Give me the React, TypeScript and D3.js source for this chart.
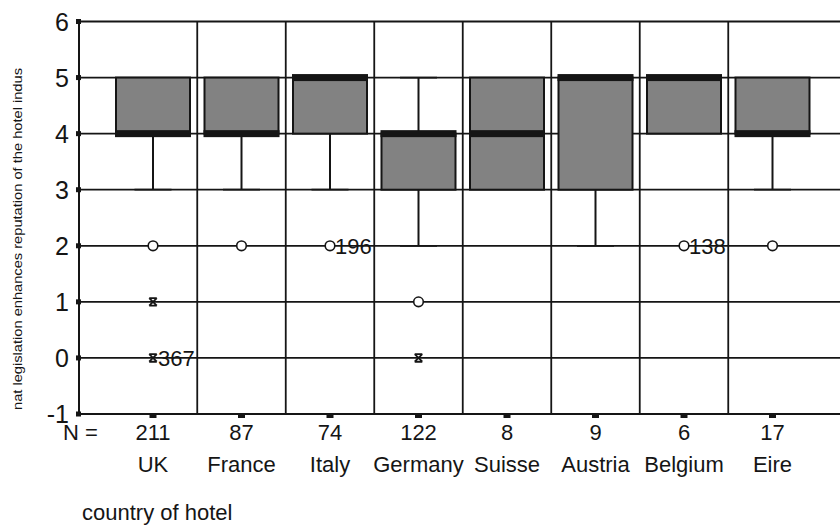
import React from "react";
import * as d3 from "d3";

// Countries of the surveyed hotels and their sample sizes
const categories = ["UK", "France", "Italy", "Germany", "Suisse", "Austria", "Belgium", "Eire"];
const sampleSizes = [211, 87, 74, 122, 8, 9, 6, 17];

// Box statistics per country (Likert-type agreement score)
const q1Values = [4, 4, 4, 3, 3, 3, 4, 4];
const medianValues = [4, 4, 5, 4, 4, 5, 5, 4];
const q3Values = [5, 5, 5, 4, 5, 5, 5, 5];
const whiskerLow = [3, 3, 3, 2, 3, 2, 4, 3];
const whiskerHigh = [5, 5, 5, 5, 5, 5, 5, 5];

// Outliers (circles) and extremes (stars), with case labels where shown
const outlierCountry = ["UK", "France", "Italy", "Germany", "Belgium", "Eire"];
const outlierValue = [2, 2, 2, 1, 2, 2];
const outlierLabel = ["", "", "196", "", "138", ""];

const extremeCountry = ["UK", "UK", "Germany"];
const extremeValue = [1, 0, 0];
const extremeLabel = ["", "367", ""];

const yTicks = [-1, 0, 1, 2, 3, 4, 5, 6];

const W = 840;
const H = 527;
const FONT = "'Liberation Sans', Arial, Helvetica, sans-serif";

export default function App() {
  const axisX = 79;
  const right = W;
  const y = d3.scaleLinear().domain([-1, 6]).range([414, 21.5]);
  const x = d3.scaleBand<string>().domain(categories).range([108.75, 816.75]).paddingInner(0).paddingOuter(0);
  const bw = x.bandwidth();
  const cx = (c: string) => (x(c) as number) + bw / 2;
  const boxW = 74;
  const ink = "#151515";

  const starPath = (s: number) =>
    `M${-s},${-s}L${s},${-s}M${-s},${s}L${s},${s}M${-s},${-s}L${s},${s}M${s},${-s}L${-s},${s}`;

  return (
    <svg
      width={W}
      height={H}
      viewBox={`0 0 ${W} ${H}`}
      style={{ position: "absolute", left: 0, top: 0, background: "#fff" }}
      fontFamily={FONT}
    >
      {/* horizontal grid lines */}
      {yTicks.map((t) => (
        <line key={`h${t}`} x1={axisX} x2={right} y1={y(t)} y2={y(t)} stroke={ink} strokeWidth={1.8} />
      ))}
      {/* vertical separators between countries */}
      {categories.slice(1).map((c) => (
        <line key={`v${c}`} x1={x(c)} x2={x(c)} y1={y(6)} y2={y(-1)} stroke={ink} strokeWidth={1.8} />
      ))}
      {/* y axis */}
      <line x1={axisX} x2={axisX} y1={y(6)} y2={y(-1)} stroke={ink} strokeWidth={2} />
      {yTicks.map((t) => (
        <g key={`yt${t}`}>
          <rect x={axisX - 3} y={y(t) - 2.5} width={5} height={5} fill={ink} />
          <text x={69} y={y(t)} dy="0.36em" textAnchor="end" fontSize={25} fill={ink}>
            {t}
          </text>
        </g>
      ))}
      {/* x tick marks */}
      {categories.map((c) => (
        <rect key={`xt${c}`} x={cx(c) - 3.5} y={y(-1)} width={7} height={4} fill={ink} />
      ))}

      {/* whiskers */}
      {categories.map((c, i) => (
        <g key={`w${c}`} stroke={ink} strokeWidth={2}>
          {whiskerLow[i] < q1Values[i] && (
            <>
              <line x1={cx(c)} x2={cx(c)} y1={y(q1Values[i])} y2={y(whiskerLow[i])} />
              <line x1={cx(c) - boxW / 4} x2={cx(c) + boxW / 4} y1={y(whiskerLow[i])} y2={y(whiskerLow[i])} strokeWidth={1.8} />
            </>
          )}
          {whiskerHigh[i] > q3Values[i] && (
            <>
              <line x1={cx(c)} x2={cx(c)} y1={y(q3Values[i])} y2={y(whiskerHigh[i])} />
              <line x1={cx(c) - boxW / 4} x2={cx(c) + boxW / 4} y1={y(whiskerHigh[i])} y2={y(whiskerHigh[i])} strokeWidth={1.8} />
            </>
          )}
        </g>
      ))}

      {/* boxes and medians */}
      {categories.map((c, i) => (
        <g key={`b${c}`}>
          <rect
            x={cx(c) - boxW / 2}
            y={y(q3Values[i])}
            width={boxW}
            height={y(q1Values[i]) - y(q3Values[i])}
            fill="#828282"
            stroke={ink}
            strokeWidth={2}
          />
          <rect x={cx(c) - boxW / 2 - 1} y={y(medianValues[i]) - 3.5} width={boxW + 2} height={7} fill={ink} />
        </g>
      ))}

      {/* outliers */}
      {outlierCountry.map((c, i) => (
        <g key={`o${i}`}>
          <circle cx={cx(c)} cy={y(outlierValue[i])} r={4.8} fill="#fff" stroke={ink} strokeWidth={1.6} />
          {outlierLabel[i] && (
            <text x={cx(c) + 5} y={y(outlierValue[i])} dy="0.36em" fontSize={22} fill={ink}>
              {outlierLabel[i]}
            </text>
          )}
        </g>
      ))}
      {/* extremes */}
      {extremeCountry.map((c, i) => (
        <g key={`e${i}`}>
          <path
            d={starPath(3.8)}
            transform={`translate(${cx(c)},${y(extremeValue[i])})`}
            fill="none"
            stroke={ink}
            strokeWidth={1.8}
          />
          {extremeLabel[i] && (
            <text x={cx(c) + 5} y={y(extremeValue[i])} dy="0.36em" fontSize={22} fill={ink}>
              {extremeLabel[i]}
            </text>
          )}
        </g>
      ))}

      {/* N row and category names */}
      <text x={63} y={440} fontSize={22} fill={ink}>
        N =
      </text>
      {categories.map((c, i) => (
        <g key={`lab${c}`}>
          <text x={cx(c)} y={440} textAnchor="middle" fontSize={22} fill={ink}>
            {sampleSizes[i]}
          </text>
          <text x={cx(c)} y={472} textAnchor="middle" fontSize={22} fill={ink}>
            {c}
          </text>
        </g>
      ))}

      {/* axis titles */}
      <text x={82} y={520} fontSize={22} fill={ink}>
        country of hotel
      </text>
      <text
        transform="translate(22,239) rotate(-90)"
        textAnchor="middle"
        fontSize={13}
        textLength={342}
        lengthAdjust="spacingAndGlyphs"
        fill={ink}
      >
        nat legislation enhances reputation of the hotel indus
      </text>
    </svg>
  );
}
